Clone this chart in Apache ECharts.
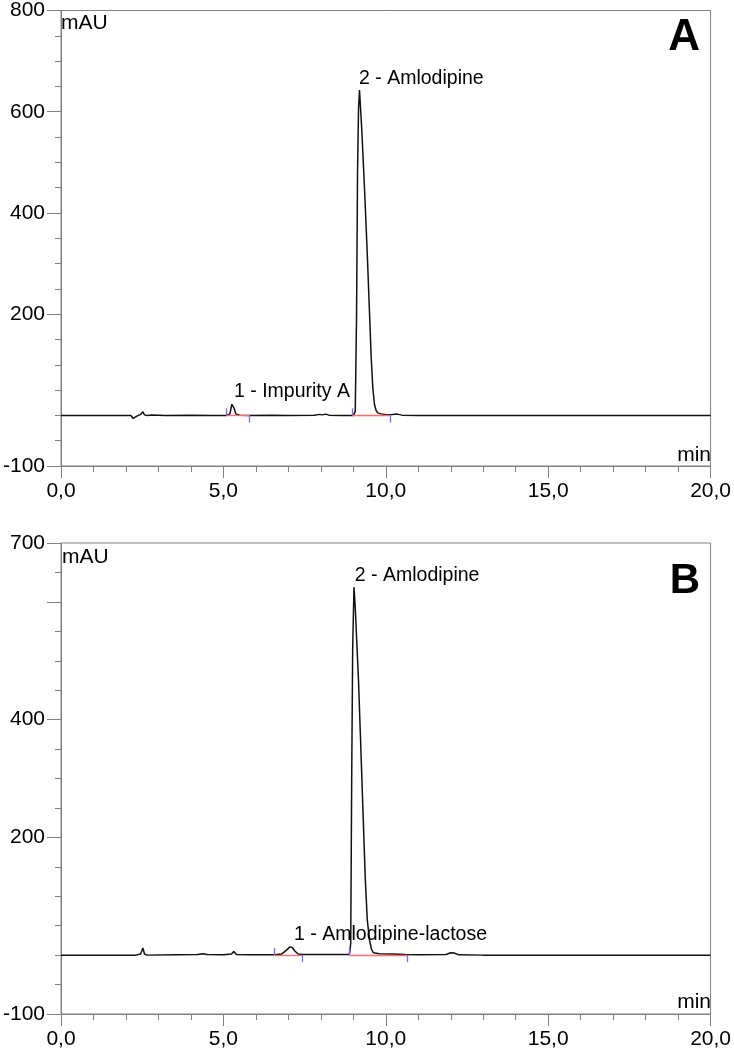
<!DOCTYPE html>
<html>
<head>
<meta charset="utf-8">
<script src="https://cdn.jsdelivr.net/npm/echarts@6/dist/echarts.min.js"></script>
<style>
  html, body { margin: 0; padding: 0; background: #fff; }
  #chart { width: 734px; height: 1051px; }
</style>
</head>
<body>
<div id="chart"></div>
<script>
// chromatogram A (min, mAU)
const timesA = [0, 1, 2, 2.15, 2.22, 2.28, 2.35, 2.45, 2.52, 2.57, 2.65, 2.8, 3.2, 4.0, 4.6, 5.1, 5.2, 5.26, 5.29, 5.33, 5.38, 5.5, 5.8, 6.5, 7.0, 7.8, 7.95, 8.05, 8.15, 8.25, 8.6, 9.0, 9.06, 9.10, 9.13, 9.16, 9.19, 9.22, 9.26, 9.30, 9.35, 9.40, 9.45, 9.50, 9.55, 9.60, 9.65, 9.70, 9.75, 9.85, 10.0, 10.2, 10.35, 10.5, 11, 12, 14, 16, 18, 20]
const mauA = [0, 0, 0, 0, -6, -3, -1, 2, 7, 1, 0, 1, 0, 0.5, 0, 0, 3, 22, 25, 14, 3, 0.5, 0, 0.5, 0, 0.5, 2, 1, 2.5, 0.5, 0, 0, 8, 200, 480, 605, 643, 610, 565, 510, 440, 365, 285, 200, 115, 55, 22, 10, 5, 3, 1.5, 2, 2.5, 0.5, 0, 0, 0, 0, 0, 0]

// chromatogram B (min, mAU)
const timesB = [0, 2.3, 2.45, 2.52, 2.57, 2.65, 3.5, 4.2, 4.37, 4.5, 5.0, 5.25, 5.32, 5.4, 5.8, 6.57, 6.8, 6.95, 7.05, 7.12, 7.2, 7.3, 7.43, 8.0, 8.88, 8.92, 8.95, 8.98, 9.02, 9.06, 9.10, 9.16, 9.22, 9.30, 9.37, 9.43, 9.50, 9.56, 9.62, 9.8, 10.2, 10.6, 11.0, 11.85, 12.0, 12.1, 12.25, 13, 15, 17, 20]
const mauB = [0, 0, 2, 12, 2, 0, 0.5, 1, 2.5, 1, 0.5, 2, 6, 1, 0.5, 0.5, 2, 9, 14, 13, 7, 2, 1, 1, 1, 20, 300, 520, 625, 590, 540, 466, 370, 240, 127, 60, 25, 10, 4, 2.5, 2, 1, 0.5, 1, 4, 3.5, 0.5, 0, 0, 0, 0]

// integration marks: peak start / end times
const peakStartA = [5.1, 8.97]
const peakEndA = [5.8, 10.14]
const peakStartB = [6.57, 8.88]
const peakEndB = [7.43, 10.65]

// peak labels (anchor in min, mAU)
const labelNamesA = ['1 - Impurity A', '2 - Amlodipine']
const labelTimesA = [5.31, 9.16]
const labelMauA = [47, 665]
const labelNamesB = ['1 - Amlodipine-lactose', '2 - Amlodipine']
const labelTimesB = [7.16, 9.03]
const labelMauB = [34, 645]

// axes
const yMajorA = [-100, 200, 400, 600, 800]
const yLabelA = [-100, 200, 400, 600, 800]
const yMajorB = [-100, 200, 400, 600, 700]
const yLabelB = [-100, 200, 400, 700]
const xTicks = [0, 5, 10, 15, 20]

const FONT = 'Liberation Sans, Arial, sans-serif'
const AXIS_GRAY = '#808080'
const RED = '#ff6a6a'
const BLUE = '#6f6fff'

let chart = echarts.init(document.getElementById('chart'))

function pairs (t, v) {
  return t.map(function (x, i) { return [x, v[i]] })
}

// red baseline segments under each integrated peak
function baselines (starts, ends) {
  return starts.map(function (s, i) {
    return [{coord: [s, 0]}, {coord: [ends[i], 0]}]
  })
}

// blue start (up) / end (down) ticks
function limits (starts, ends, tick) {
  let res = []
  for (let i = 0; i < starts.length; i++) {
    res.push([{coord: [starts[i], 0]}, {coord: [starts[i], tick]}])
    res.push([{coord: [ends[i], 0]}, {coord: [ends[i], -tick]}])
  }
  return res
}

function peakLabels (names, t, v) {
  return names.map(function (n, i) {
    return {name: n, coord: [t[i], v[i]]}
  })
}

function xAxisFor (grid) {
  return {
    type: 'value',
    gridIndex: grid,
    min: 0,
    max: 20,
    interval: 5,
    axisLine: {show: true, onZero: false, lineStyle: {color: AXIS_GRAY, width: 1}},
    axisTick: {show: true, length: 12, lineStyle: {color: AXIS_GRAY}},
    minorTick: {show: true, splitNumber: 5, length: 6, lineStyle: {color: AXIS_GRAY}},
    splitLine: {show: false},
    axisLabel: {
      margin: 15,
      color: '#000',
      fontSize: 21,
      fontFamily: FONT,
      customValues: xTicks,
      formatter: function (v) { return v.toFixed(1).replace('.', ',') }
    }
  }
}

function yAxesFor (grid, max, majors, labels) {
  return [
    {
      type: 'value',
      gridIndex: grid,
      position: 'left',
      min: -100,
      max: max,
      interval: 50,
      axisLine: {show: true, onZero: false, lineStyle: {color: AXIS_GRAY, width: 1}},
      axisTick: {show: true, length: 14, customValues: majors, lineStyle: {color: AXIS_GRAY}},
      splitLine: {show: false},
      axisLabel: {
        margin: 16,
        color: '#000',
        fontSize: 21,
        fontFamily: FONT,
        customValues: labels
      }
    },
    {
      type: 'value',
      gridIndex: grid,
      position: 'left',
      offset: 0,
      min: -100,
      max: max,
      interval: 50,
      axisLine: {show: false},
      axisTick: {show: true, length: 6, lineStyle: {color: AXIS_GRAY}},
      splitLine: {show: false},
      axisLabel: {show: false}
    }
  ]
}

function traceSeries (idx, data, names, lt, lv) {
  return {
    type: 'line',
    xAxisIndex: idx,
    yAxisIndex: idx * 2,
    data: data,
    showSymbol: false,
    symbol: 'none',
    lineStyle: {color: '#111', width: 1.5},
    z: 3,
    markPoint: {
      silent: true,
      symbol: 'circle',
      symbolSize: 1,
      itemStyle: {color: 'rgba(0,0,0,0)'},
      label: {
        show: true,
        position: 'right',
        distance: 0,
        formatter: '{b}',
        color: '#000',
        fontSize: 19.5,
        fontFamily: FONT
      },
      data: peakLabels(names, lt, lv)
    }
  }
}

// empty series that only carries integration marks (drawn above the trace)
function markSeries (idx, color, lines) {
  return {
    type: 'line',
    xAxisIndex: idx,
    yAxisIndex: idx * 2,
    data: [],
    z: 6,
    markLine: {
      silent: true,
      symbol: 'none',
      label: {show: false},
      lineStyle: {color: color, width: 1.3, type: 'solid'},
      emphasis: {disabled: true},
      z: 6,
      data: lines
    }
  }
}

function text (x, y, str, size, align, weight) {
  return {
    type: 'text',
    x: x,
    y: y,
    style: {
      text: str,
      fill: '#000',
      font: (weight || 'normal') + ' ' + size + 'px ' + FONT,
      align: align,
      verticalAlign: 'middle'
    }
  }
}

let yA = yAxesFor(0, 800, yMajorA, yLabelA)
let yB = yAxesFor(1, 700, yMajorB, yLabelB)

let option = {
  animation: false,
  backgroundColor: '#fff',
  grid: [
    {left: 60, top: 8, width: 651, height: 458, show: true, borderColor: AXIS_GRAY, borderWidth: 1, backgroundColor: '#fff'},
    {left: 60, top: 543, width: 651, height: 471, show: true, borderColor: AXIS_GRAY, borderWidth: 1, backgroundColor: '#fff'}
  ],
  xAxis: [xAxisFor(0), xAxisFor(1)],
  yAxis: [yA[0], yA[1], yB[0], yB[1]],
  series: [
    traceSeries(0, pairs(timesA, mauA), labelNamesA, labelTimesA, labelMauA),
    markSeries(0, RED, baselines(peakStartA, peakEndA)),
    markSeries(0, BLUE, limits(peakStartA, peakEndA, 14)),
    traceSeries(1, pairs(timesB, mauB), labelNamesB, labelTimesB, labelMauB),
    markSeries(1, RED, baselines(peakStartB, peakEndB)),
    markSeries(1, BLUE, limits(peakStartB, peakEndB, 12))
  ],
  graphic: [
    text(61, 23, 'mAU', 21, 'left'),
    text(711, 455, 'min', 21, 'right'),
    text(700, 38, 'A', 44, 'right', 'bold'),
    text(62, 557, 'mAU', 21, 'left'),
    text(711, 1002, 'min', 21, 'right'),
    text(700, 581, 'B', 42, 'right', 'bold')
  ]
}

chart.setOption(option)
</script>
</body>
</html>
